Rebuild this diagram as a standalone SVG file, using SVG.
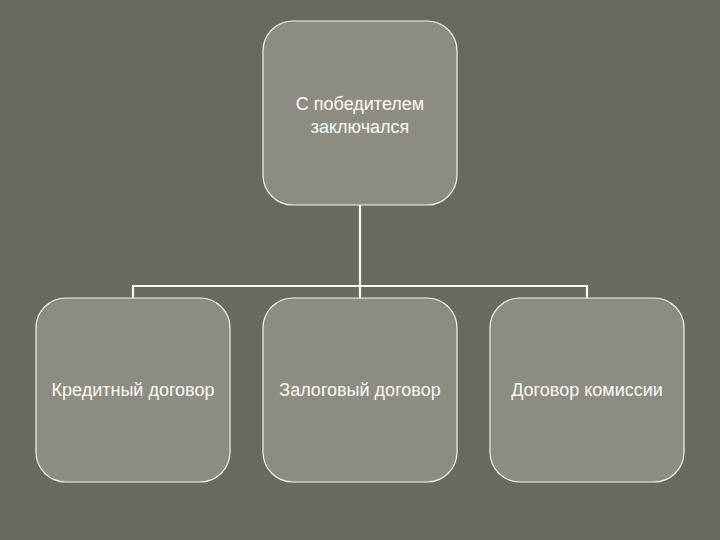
<svg xmlns="http://www.w3.org/2000/svg" width="720" height="540" viewBox="0 0 720 540">
<style>
.node{fill:#8c8d80;stroke:#f4f4e8;stroke-width:1.2}
.lbl{font-family:"Liberation Sans",Arial,sans-serif;font-size:18px;fill:#fbfbf2;text-anchor:middle}
.conn{fill:none;stroke:#fbfbf0;stroke-width:2.2}
</style>
<rect width="720" height="540" fill="#696a5d"/>
<g id="connectors">
<path class="conn" d="M360 205 V286 M133 298 V286 H587 V298 M360 286 V298"/>
</g>
<g id="top">
<rect class="node" x="263" y="21" width="194" height="184" rx="30"/>
<text class="lbl" x="360" y="110">С победителем</text>
<text class="lbl" x="360" y="133">заключался</text>
</g>
<g id="n1">
<rect class="node" x="36" y="298" width="194" height="184" rx="30"/>
<text class="lbl" x="133" y="396">Кредитный договор</text>
</g>
<g id="n2">
<rect class="node" x="263" y="298" width="194" height="184" rx="30"/>
<text class="lbl" x="360" y="396">Залоговый договор</text>
</g>
<g id="n3">
<rect class="node" x="490" y="298" width="194" height="184" rx="30"/>
<text class="lbl" x="587" y="396">Договор комиссии</text>
</g>
</svg>
